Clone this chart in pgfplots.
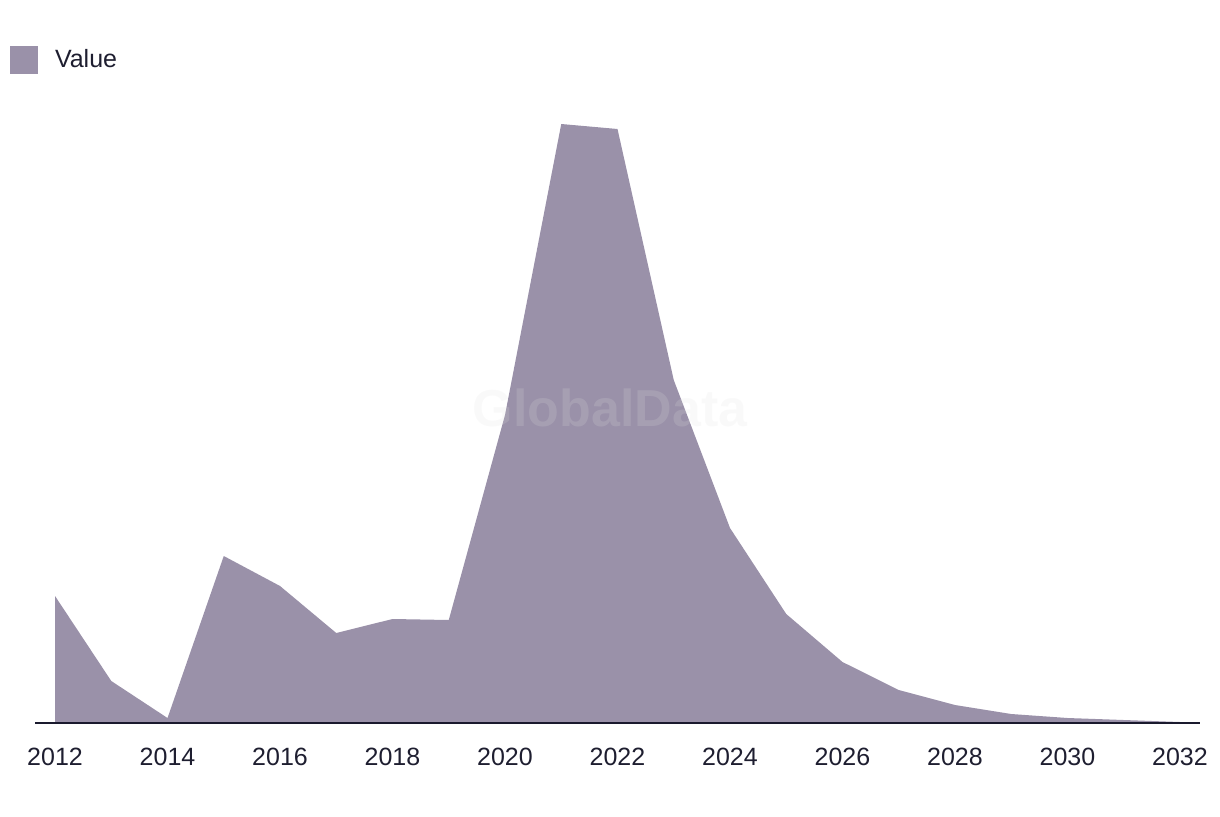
\documentclass[border=0pt]{standalone}
\usepackage{fontspec}
\setmainfont{Liberation Sans}
\usepackage{pgfplots}
\pgfplotsset{compat=1.18}
\definecolor{areacol}{HTML}{9A91A9}
\definecolor{axcol}{HTML}{1A1A2E}
\definecolor{txtcol}{HTML}{1E1E30}
\begin{document}
\begin{tikzpicture}
\useasboundingbox (-17.5pt,-46.5pt) rectangle (592.5pt,361.5pt);
\begin{axis}[
  scale only axis,
  width=582.5pt, height=300pt,
  xmin=2011.644, xmax=2032.356,
  ymin=0, ymax=600,
  hide y axis,
  axis x line*=bottom,
  x axis line style={draw=none},
  major tick length=0pt,
  xtick={2012,2014,...,2032},
  xticklabel style={font=\fontsize{12.5}{14}\selectfont, text=txtcol, /pgf/number format/1000 sep={}, yshift=-9pt},
  /pgf/number format/assume math mode=true,
  legend style={at={(-0.02146,1.1058)}, anchor=west, draw=none, fill=none, inner sep=0pt, outer sep=0pt,
    font=\fontsize{12.5}{14}\selectfont, text=txtcol,
    legend cell align=left,
    nodes={inner sep=0pt}},
  legend image code/.code={\fill[areacol] (0pt,-7pt) rectangle (14pt,7pt);},
  clip=false,
]
\addplot[fill=areacol, draw=none] coordinates {
(2012,0) (2012,127) (2013,42) (2014,5) (2015,167) (2016,137) (2017,90) (2018,104) (2019,103)
(2020,308) (2021,599) (2022,594) (2023,343) (2024,195) (2025,109) (2026,61) (2027,33)
(2028,18) (2029,9) (2030,5) (2031,3) (2032,1) (2032,0)} \closedcycle;
\addlegendentry{\hspace{8.5pt}Value}
\draw[axcol, line width=1pt] (rel axis cs:0,0) -- (rel axis cs:1,0);
\node[text=white!88!black, opacity=0.18, font=\bfseries\fontsize{26}{30}\selectfont] at (axis cs:2021.87,315) {GlobalData};
\end{axis}
\end{tikzpicture}
\end{document}
